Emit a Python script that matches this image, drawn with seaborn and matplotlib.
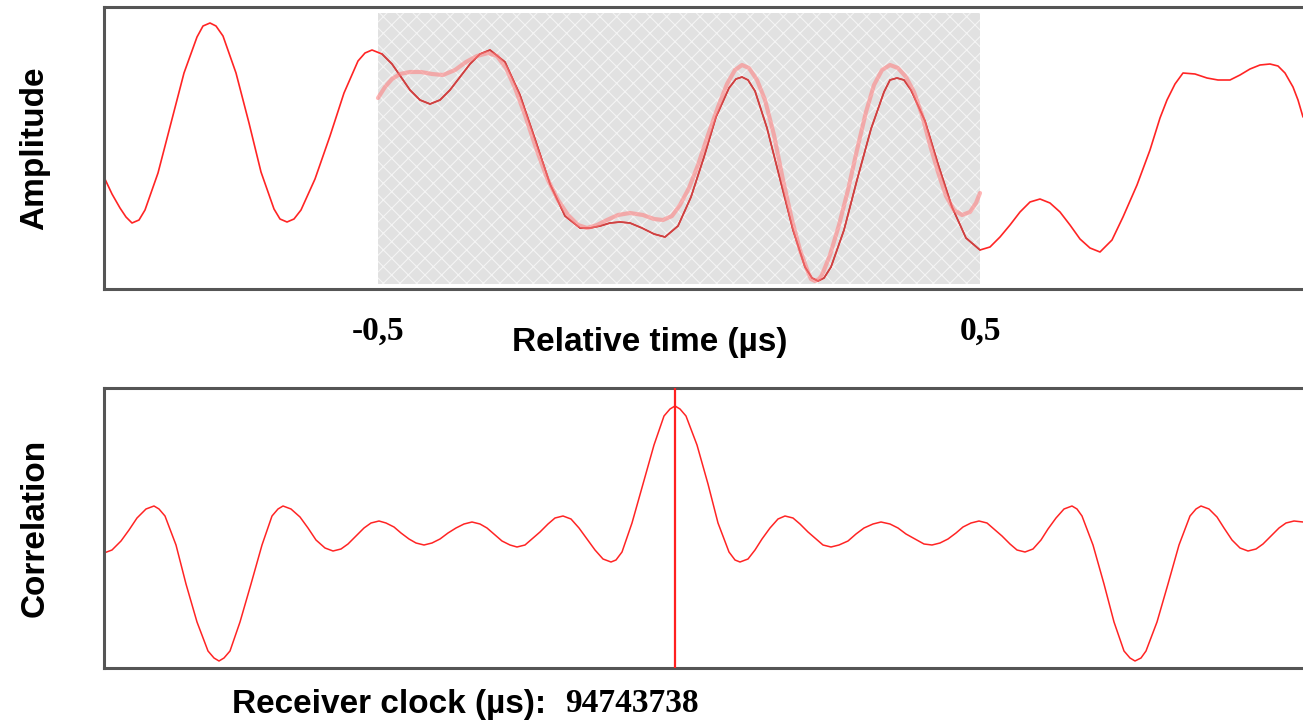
import numpy as np
import pandas as pd
import matplotlib
matplotlib.use("Agg")
import matplotlib.pyplot as plt
import seaborn as sns

# ---------------- data ----------------
# sample offsets relative to the correlation window centre, sampled at 602 samples / us
SAMPLES_PER_US = 602.0

signal_n = [-575, -567, -559, -553, -547, -540, -534, -521, -508, -495, -482, -476, -469, -463, -456, -443, -430,
            -418, -405, -399, -392, -385, -378, -364, -349, -335, -321, -314, -307, -297, -287, -278, -269, -259,
            -249, -239, -229, -219, -209, -199, -189, -174, -159, -144, -129, -114, -99, -89,
            -79, -69, -59, -49, -37, -25, -14, -1, 12, 25, 37, 50, 57, 63, 69, 76, 88, 101, 114, 126, 133,
            139, 145, 152, 165, 178, 192, 205, 211, 218, 225, 232, 246, 259, 273, 287, 301, 311, 321, 331,
            341, 351, 361, 371, 381, 391, 401, 411, 421, 433, 444, 458, 471, 481, 488, 496,
            504, 516, 528, 539, 551, 561, 571, 581, 591, 599, 606, 614, 619, 624]
signal_amp = [-29, -46, -60, -69, -75, -72, -62, -25, 25, 75, 111, 122, 125, 122, 112, 75, 25,
              -24, -61, -71, -74, -71, -62, -31, 12, 55, 87, 95, 98, 94, 84, 71, 58, 48,
              44, 48, 58, 71, 84, 94, 98, 86, 53, 9, -36, -68, -80, -80,
              -78, -75, -74, -75, -80, -86, -89, -78, -49, -9, 31, 60, 69, 71, 68, 57, 20, -31, -82, -119, -130,
              -133, -130, -119, -82, -32, 19, 56, 68, 70, 68, 58, 27, -16, -59, -90, -102, -99, -89, -77,
              -64, -54, -51, -55, -64, -77, -91, -100, -104, -92, -69, -37, -2, 30, 48, 64,
              75, 74, 70, 68, 68, 73, 79, 83, 84, 82, 75, 61, 48, 31]

template_n = [-301, -294, -287, -279, -269, -258, -247, -236, -224, -213, -202, -191, -182, -173,
              -164, -154, -143, -132, -121, -111, -101, -92, -82, -72, -61, -49, -36, -25, -16,
              -7, 1, 10, 19, 29, 39, 48, 56, 63, 70, 78, 86, 95, 104, 113, 121, 129, 132, 136, 140, 143,
              151, 160, 169, 178, 187, 195, 203, 211, 219, 227, 235, 243, 251, 259, 267, 275,
              283, 291, 297, 301]
template_amp = [50, 61, 69, 74, 76, 76, 74, 73, 78, 86, 92, 95, 92, 80,
                60, 33, 0, -30, -52, -67, -77, -80, -77, -72, -67, -65, -67, -71, -72,
                -68, -57, -40, -17, 13, 41, 64, 78, 83, 80, 68, 48, 13, -32, -72, -102, -124, -131, -133, -131, -127,
                -107, -77, -42, -2, 36, 63, 78, 83, 80, 71, 56, 33, 3, -24, -48, -62,
                -67, -64, -55, -45]

corr_n = [-575, -567, -558, -550, -542, -533, -525, -520, -514, -503, -493, -482, -471, -465, -460, -455, -449,
          -439, -428, -417, -407, -401, -396, -388, -379, -371, -363, -354, -346, -338, -331, -323,
          -315, -308, -300, -293, -285, -278, -270, -263, -255, -247, -239, -231, -223, -215,
          -207, -199, -192, -185, -177, -169, -162, -154, -147, -139, -131, -124, -116, -108,
          -100, -92, -84, -76, -68, -63, -57, -47, -36, -25, -15, -9, -4, 1, 7, 18, 29, 39, 50, 56, 61, 69,
          76, 83, 91, 99, 106, 114, 121, 129, 137, 144, 152, 160, 169, 177, 185, 194, 202,
          211, 219, 227, 236, 245, 253, 261, 269, 277, 284, 292, 300, 308, 315, 323, 331,
          338, 346, 354, 362, 369, 377, 385, 393, 398, 403, 414, 425, 435, 445, 451, 456, 462, 467, 478,
          489, 500, 511, 517, 522, 530, 538, 545, 553, 561, 569, 577, 584, 592, 600, 607, 615, 624]
corr_val = [-25, -22, -13, -2, 10, 19, 22, 19, 12, -17, -56, -94, -123, -130, -133, -130, -123,
            -94, -56, -17, 12, 19, 22, 19, 11, 0, -12, -20, -23, -21, -16, -8,
            0, 5, 7, 5, 1, -5, -11, -15, -17, -15, -11, -5, 0, 4,
            6, 4, 0, -6, -13, -17, -19, -17, -11, -4, 4, 10, 12, 9,
            0, -11, -22, -31, -34, -32, -24, 5, 44, 83, 112, 119, 122, 119, 112, 83, 44, 5, -24, -32, -34, -31,
            -22, -11, 0, 9, 12, 10, 4, -4, -11, -17, -19, -17, -13, -6, 0, 4, 6,
            4, 0, -6, -11, -16, -17, -15, -11, -5, 1, 5, 7, 5, -1, -8, -16,
            -22, -24, -21, -12, -1, 10, 19, 22, 19, 12, -17, -56, -94, -123, -130, -133, -130, -123, -94,
            -56, -17, 12, 19, 22, 19, 11, 0, -12, -20, -23, -21, -16, -8, 0, 5, 7, 6]

WINDOW_US = [-0.5, 0.5]
RECEIVER_CLOCK_US = 94743738

sig = pd.DataFrame({"t": np.array(signal_n) / SAMPLES_PER_US, "amp": signal_amp})
tpl = pd.DataFrame({"t": np.array(template_n) / SAMPLES_PER_US, "amp": template_amp})
cor = pd.DataFrame({"t": np.array(corr_n) / SAMPLES_PER_US, "corr": corr_val})
inside = sig[(sig.t >= WINDOW_US[0]) & (sig.t <= WINDOW_US[1])]

# ---------------- style ----------------
sns.set_style("white")
plt.rcParams["font.family"] = ["Liberation Sans", "DejaVu Sans"]
plt.rcParams["hatch.linewidth"] = 0.8
plt.rcParams["text.color"] = "black"
plt.rcParams["xtick.color"] = "black"
plt.rcParams["xtick.labelcolor"] = "black"

W, H = 1303, 721
fig = plt.figure(figsize=(W / 100, H / 100), dpi=100)
ax1 = fig.add_axes([104 / W, (H - 289) / H, 1 - 104 / W, 282 / H])
ax2 = fig.add_axes([104 / W, (H - 668) / H, 1 - 104 / W, 280 / H])

xlim = (-575 / SAMPLES_PER_US, 624 / SAMPLES_PER_US)
line_kw = dict(sort=False, estimator=None, solid_joinstyle="round", solid_capstyle="round")

# top panel
ax1.axvspan(WINDOW_US[0], WINDOW_US[1], ymin=0.018, ymax=0.979, facecolor="#e1e1e1",
            edgecolor="#f4f4f4", hatch="xx", linewidth=0, zorder=1)
sns.lineplot(data=sig, x="t", y="amp", ax=ax1, color="#ff2424", linewidth=1.2, zorder=2, **line_kw)
sns.lineplot(data=inside, x="t", y="amp", ax=ax1, color="#c84444", linewidth=1.1, zorder=3, **line_kw)
sns.lineplot(data=tpl, x="t", y="amp", ax=ax1, color="#ff7a7a", linewidth=3.0, alpha=0.55,
             zorder=4, **line_kw)
ax1.set_xlim(*xlim)
ax1.set_ylim(-141, 141)
ax1.set_yticks([])
ax1.set_xticks(WINDOW_US, labels=[f"{v:g}".replace(".", ",") for v in WINDOW_US])
ax1.tick_params(axis="x", length=0, pad=19)
for lab in ax1.get_xticklabels():
    lab.set_fontfamily("Liberation Serif")
    lab.set_fontweight("bold")
    lab.set_fontsize(24)
    lab.set_color("black")
ax1.set_xlabel("")
ax1.set_ylabel("")

# bottom panel
sns.lineplot(data=cor, x="t", y="corr", ax=ax2, color="#ff2424", linewidth=1.1, zorder=2, **line_kw)
peak_t = cor.t[cor["corr"].idxmax()]
ax2.axvline(peak_t, color="#ff2020", linewidth=1.6, zorder=3)
ax2.set_xlim(*xlim)
ax2.set_ylim(-140, 140)
ax2.set_xticks([])
ax2.set_yticks([])
ax2.set_xlabel("")
ax2.set_ylabel("")

for ax in (ax1, ax2):
    for s in ("top", "bottom", "left"):
        ax.spines[s].set_color("#555555")
        ax.spines[s].set_linewidth(2.2)
        ax.spines[s].set_visible(True)
    ax.spines["right"].set_visible(False)

bold = dict(fontsize=24, fontweight="bold", color="black")
fig.text(35 / W, 1 - 148 / H, "Amplitude", rotation=90, ha="center", va="center", **bold)
fig.text(35 / W, 1 - 528 / H, "Correlation", rotation=90, ha="center", va="center", **bold)
fig.text(650 / W, 1 - 343 / H, "Relative time (µs)", ha="center", va="center", **bold)
fig.text(232 / W, 1 - 704 / H, "Receiver clock (µs):", ha="left", va="center", **bold)
fig.text(565 / W, 1 - 704 / H, str(RECEIVER_CLOCK_US), ha="left", va="center",
         family="Liberation Serif", **bold)

fig.savefig("out.png", dpi=100)
